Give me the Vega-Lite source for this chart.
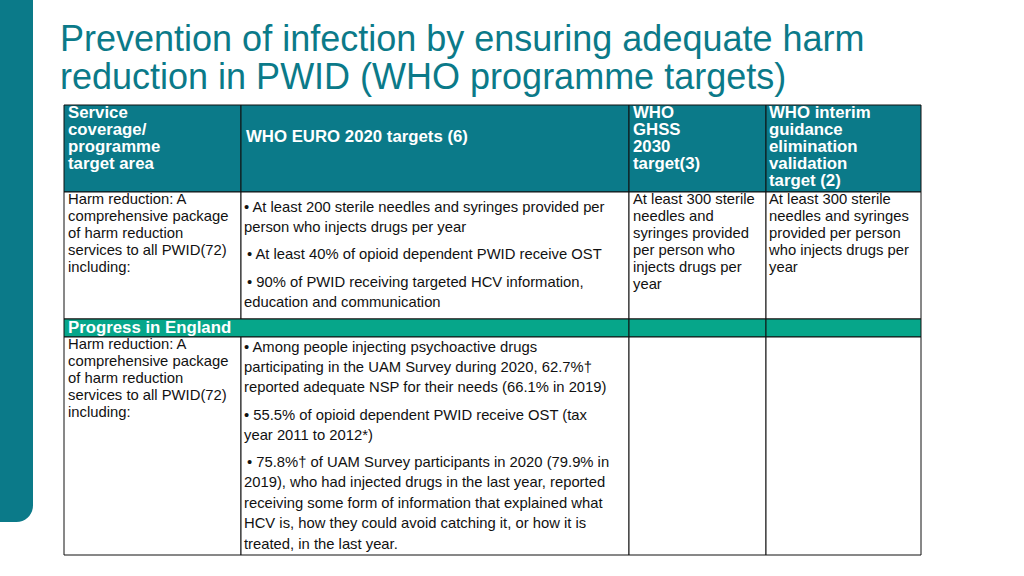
{
  "$schema": "https://vega.github.io/schema/vega-lite/v6.json",
  "width": 1024,
  "height": 576,
  "padding": 0,
  "autosize": "none",
  "background": "white",
  "config": {"view": {"stroke": null}},
  "datasets": {
    "cells": [
      {"part": "bar", "x0": 0, "x1": 33, "y0": -30, "y1": 522},
      {"part": "header", "x0": 64, "x1": 241, "y0": 105, "y1": 192},
      {"part": "header", "x0": 241, "x1": 629, "y0": 105, "y1": 192},
      {"part": "header", "x0": 629, "x1": 766, "y0": 105, "y1": 192},
      {"part": "header", "x0": 766, "x1": 921, "y0": 105, "y1": 192},
      {"part": "body", "x0": 64, "x1": 241, "y0": 192, "y1": 319},
      {"part": "body", "x0": 241, "x1": 629, "y0": 192, "y1": 319},
      {"part": "body", "x0": 629, "x1": 766, "y0": 192, "y1": 319},
      {"part": "body", "x0": 766, "x1": 921, "y0": 192, "y1": 319},
      {"part": "green", "x0": 64, "x1": 629, "y0": 319, "y1": 337},
      {"part": "green", "x0": 629, "x1": 766, "y0": 319, "y1": 337},
      {"part": "green", "x0": 766, "x1": 921, "y0": 319, "y1": 337},
      {"part": "body", "x0": 64, "x1": 241, "y0": 337, "y1": 555},
      {"part": "body", "x0": 241, "x1": 629, "y0": 337, "y1": 555},
      {"part": "body", "x0": 629, "x1": 766, "y0": 337, "y1": 555},
      {"part": "body", "x0": 766, "x1": 921, "y0": 337, "y1": 555}
    ],
    "lines": [
      {"s": "h", "x": 68, "y": 113, "t": "Service"},
      {"s": "h", "x": 68, "y": 130, "t": "coverage/"},
      {"s": "h", "x": 68, "y": 147, "t": "programme"},
      {"s": "h", "x": 68, "y": 164, "t": "target area"},
      {"s": "h", "x": 246, "y": 137, "t": "WHO EURO 2020 targets (6)"},
      {"s": "h", "x": 633, "y": 113, "t": "WHO"},
      {"s": "h", "x": 633, "y": 130, "t": "GHSS"},
      {"s": "h", "x": 633, "y": 147, "t": "2030"},
      {"s": "h", "x": 633, "y": 164, "t": "target(3)"},
      {"s": "h", "x": 769, "y": 113, "t": "WHO interim"},
      {"s": "h", "x": 769, "y": 130, "t": "guidance"},
      {"s": "h", "x": 769, "y": 147, "t": "elimination"},
      {"s": "h", "x": 769, "y": 164, "t": "validation"},
      {"s": "h", "x": 769, "y": 181, "t": "target (2)"},
      {"s": "b", "x": 68, "y": 200, "t": "Harm reduction: A"},
      {"s": "b", "x": 68, "y": 217, "t": "comprehensive package"},
      {"s": "b", "x": 68, "y": 234, "t": "of harm reduction"},
      {"s": "b", "x": 68, "y": 251, "t": "services to all PWID(72)"},
      {"s": "b", "x": 68, "y": 268, "t": "including:"},
      {"s": "b", "x": 244, "y": 208, "t": "• At least 200 sterile needles and syringes provided per"},
      {"s": "b", "x": 244, "y": 228, "t": "person who injects drugs per year"},
      {"s": "b", "x": 247, "y": 255, "t": "• At least 40% of opioid dependent PWID receive OST"},
      {"s": "b", "x": 247, "y": 283, "t": "• 90% of PWID receiving targeted HCV information,"},
      {"s": "b", "x": 244, "y": 303, "t": "education and communication"},
      {"s": "b", "x": 633, "y": 200, "t": "At least 300 sterile"},
      {"s": "b", "x": 633, "y": 217, "t": "needles and"},
      {"s": "b", "x": 633, "y": 234, "t": "syringes provided"},
      {"s": "b", "x": 633, "y": 251, "t": "per person who"},
      {"s": "b", "x": 633, "y": 268, "t": "injects drugs per"},
      {"s": "b", "x": 633, "y": 285, "t": "year"},
      {"s": "b", "x": 769, "y": 200, "t": "At least 300 sterile"},
      {"s": "b", "x": 769, "y": 217, "t": "needles and syringes"},
      {"s": "b", "x": 769, "y": 234, "t": "provided per person"},
      {"s": "b", "x": 769, "y": 251, "t": "who injects drugs per"},
      {"s": "b", "x": 769, "y": 268, "t": "year"},
      {"s": "g", "x": 68, "y": 328, "t": "Progress in England"},
      {"s": "b", "x": 68, "y": 345, "t": "Harm reduction: A"},
      {"s": "b", "x": 68, "y": 362, "t": "comprehensive package"},
      {"s": "b", "x": 68, "y": 379, "t": "of harm reduction"},
      {"s": "b", "x": 68, "y": 396, "t": "services to all PWID(72)"},
      {"s": "b", "x": 68, "y": 413, "t": "including:"},
      {"s": "b", "x": 244, "y": 348, "t": "• Among people injecting psychoactive drugs"},
      {"s": "b", "x": 244, "y": 368, "t": "participating in the UAM Survey during 2020, 62.7%†"},
      {"s": "b", "x": 244, "y": 388, "t": "reported adequate NSP for their needs (66.1% in 2019)"},
      {"s": "b", "x": 244, "y": 416, "t": "• 55.5% of opioid dependent PWID receive OST (tax"},
      {"s": "b", "x": 244, "y": 436, "t": "year 2011 to 2012*)"},
      {"s": "b", "x": 247, "y": 463, "t": "• 75.8%† of UAM Survey participants in 2020 (79.9% in"},
      {"s": "b", "x": 244, "y": 483, "t": "2019), who had injected drugs in the last year, reported"},
      {"s": "b", "x": 244, "y": 504, "t": "receiving some form of information that explained what"},
      {"s": "b", "x": 244, "y": 524, "t": "HCV is, how they could avoid catching it, or how it is"},
      {"s": "b", "x": 244, "y": 545, "t": "treated, in the last year."}
    ],
    "title": [
      {"x": 60, "y": 51, "t": "Prevention of infection by ensuring adequate harm"},
      {"x": 60, "y": 89, "t": "reduction in PWID (WHO programme targets)"}
    ]
  },
  "layer": [
    {
      "data": {"name": "cells"},
      "transform": [{"filter": "datum.part === 'bar'"}],
      "mark": {"type": "rect", "color": "#0b7a89", "cornerRadiusBottomRight": 22},
      "encoding": {
        "x": {"field": "x0", "type": "quantitative", "scale": {"domain": [0, 1024], "range": [0, 1024], "nice": false, "zero": false}, "axis": null},
        "x2": {"field": "x1"},
        "y": {"field": "y0", "type": "quantitative", "scale": {"domain": [0, 576], "range": [0, 576], "nice": false, "zero": false}, "axis": null},
        "y2": {"field": "y1"}
      }
    },
    {
      "data": {"name": "cells"},
      "transform": [{"filter": "datum.part !== 'bar'"}],
      "mark": {"type": "rect", "stroke": "#111111", "strokeWidth": 1},
      "encoding": {
        "x": {"field": "x0", "type": "quantitative", "scale": {"domain": [0, 1024], "range": [0, 1024], "nice": false, "zero": false}, "axis": null},
        "x2": {"field": "x1"},
        "y": {"field": "y0", "type": "quantitative", "scale": {"domain": [0, 576], "range": [0, 576], "nice": false, "zero": false}, "axis": null},
        "y2": {"field": "y1"},
        "fill": {"field": "part", "type": "nominal", "scale": {"domain": ["header", "body", "green"], "range": ["#0b7a89", "#ffffff", "#06a68a"]}, "legend": null}
      }
    },
    {
      "data": {"name": "lines"},
      "transform": [{"filter": "datum.s !== 'b'"}],
      "mark": {"type": "text", "align": "left", "baseline": "middle", "font": "Liberation Sans", "fontWeight": "bold", "color": "#ffffff", "fontSize": 16.8},
      "encoding": {
        "x": {"field": "x", "type": "quantitative", "scale": {"domain": [0, 1024], "range": [0, 1024], "nice": false, "zero": false}, "axis": null},
        "y": {"field": "y", "type": "quantitative", "scale": {"domain": [0, 576], "range": [0, 576], "nice": false, "zero": false}, "axis": null},
        "text": {"field": "t"}
      }
    },
    {
      "data": {"name": "lines"},
      "transform": [{"filter": "datum.s === 'b'"}],
      "mark": {"type": "text", "align": "left", "baseline": "middle", "font": "Liberation Sans", "color": "#111111", "fontSize": 14.8},
      "encoding": {
        "x": {"field": "x", "type": "quantitative", "scale": {"domain": [0, 1024], "range": [0, 1024], "nice": false, "zero": false}, "axis": null},
        "y": {"field": "y", "type": "quantitative", "scale": {"domain": [0, 576], "range": [0, 576], "nice": false, "zero": false}, "axis": null},
        "text": {"field": "t"}
      }
    },
    {
      "data": {"name": "title"},
      "mark": {"type": "text", "align": "left", "baseline": "alphabetic", "font": "Liberation Sans", "color": "#0b7a89", "fontSize": 36},
      "encoding": {
        "x": {"field": "x", "type": "quantitative", "scale": {"domain": [0, 1024], "range": [0, 1024], "nice": false, "zero": false}, "axis": null},
        "y": {"field": "y", "type": "quantitative", "scale": {"domain": [0, 576], "range": [0, 576], "nice": false, "zero": false}, "axis": null},
        "text": {"field": "t"}
      }
    }
  ]
}
